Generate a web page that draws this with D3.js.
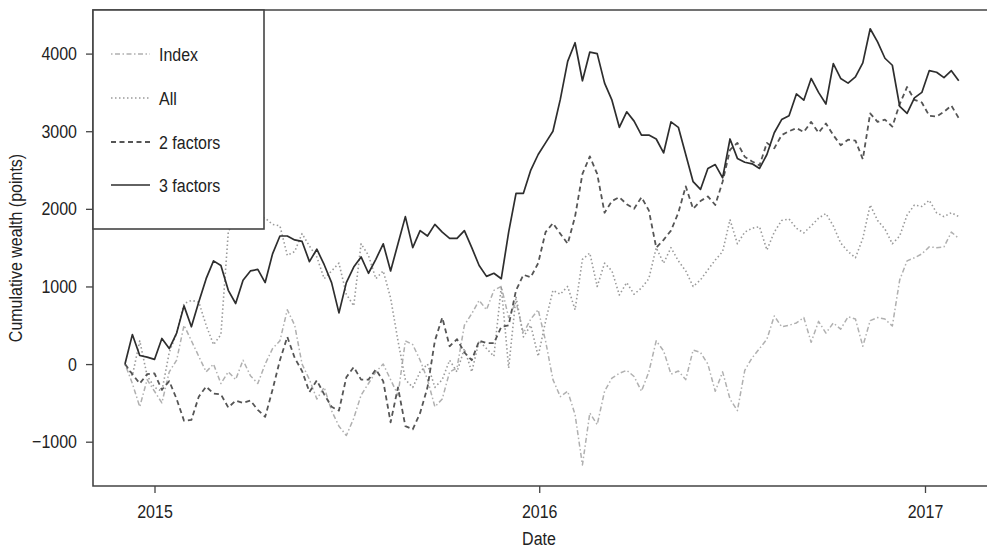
<!DOCTYPE html>
<html><head><meta charset="utf-8">
<script src="https://cdn.jsdelivr.net/npm/d3@7"></script>
<style>
body{margin:0;background:#fff;}
svg text{font-family:"Liberation Sans",Arial,sans-serif;fill:#222;}
</style></head>
<body><svg id="c" width="987" height="550"></svg>
<script>
// ---- data (weekly observations) ----
const startDate = "2014-12-04";
const nPoints = 114;
const seriesNames = ["Index", "All", "2 factors", "3 factors"];
const yTicks = [-1000, 0, 1000, 2000, 3000, 4000];
const xTicks = ["2015-01-01", "2016-01-01", "2017-01-01"];
const xTickLabels = ["2015", "2016", "2017"];

const indexVals = [0,-250,-550,-200,-350,-500,-100,50,500,300,100,-100,0,-250,-100,-200,50,-150,-250,0,
 200,300,700,500,0,-200,-450,-300,-600,-800,-920,-700,-400,-250,-100,0,-200,-400,300,250,
 50,-200,-550,-450,-100,-50,500,650,820,700,950,1000,600,800,400,580,700,300,-200,-420,
 -350,-650,-1300,-630,-780,-350,-180,-120,-80,-160,-350,-100,300,170,-130,-90,-200,180,150,0,
 -350,-100,-450,-600,-80,80,200,320,620,480,500,530,600,280,550,400,530,450,610,580,
 230,560,600,580,490,1085,1330,1370,1420,1510,1500,1510,1700,1620];
const allVals = [0,-150,300,-150,-300,-350,150,400,780,820,800,500,250,380,1700,1900,2000,1950,1900,1880,
 1800,1780,1400,1450,1680,1520,1380,1100,1200,1300,900,750,1550,1400,1100,1200,850,300,-200,-300,
 -100,0,-300,-200,50,-100,200,-100,300,200,100,1000,-50,870,350,500,100,550,950,900,
 1000,700,1350,1430,1000,1300,1200,890,1050,900,980,1100,1500,1300,1500,1330,1200,1000,1085,1215,
 1340,1450,1860,1550,1700,1750,1770,1470,1700,1850,1870,1750,1690,1780,1880,1940,1780,1560,1450,1370,
 1620,2050,1850,1740,1550,1650,1920,2050,2030,2110,1950,1900,1950,1900];
const twoFactorVals = [0,-130,-250,-130,-120,-330,-220,-450,-730,-720,-420,-290,-380,-390,-560,-470,-500,-470,-590,-680,
 -330,50,350,80,-90,-360,-210,-390,-550,-600,-170,-40,-200,-200,-70,-220,-750,-300,-800,-840,
 -630,-300,300,600,230,320,150,50,300,270,270,480,500,950,1150,1120,1300,1700,1815,1680,
 1550,1900,2450,2675,2450,1950,2100,2150,2060,2000,2150,1980,1500,1600,1720,1950,2290,2000,2100,2160,
 2050,2350,2760,2850,2670,2610,2560,2850,2780,2950,3000,3040,2990,3120,2980,3100,2950,2820,2890,2880,
 2640,3230,3120,3150,3060,3350,3570,3405,3370,3200,3190,3250,3330,3170];
const threeFactorVals = [0,380,110,90,60,330,200,400,750,480,800,1100,1330,1270,950,780,1080,1200,1220,1050,
 1420,1650,1650,1600,1580,1320,1480,1280,1050,660,1050,1250,1380,1170,1350,1550,1200,1550,1900,1500,
 1720,1650,1800,1700,1620,1620,1720,1500,1270,1130,1170,1100,1700,2200,2200,2500,2700,2850,3000,3410,
 3900,4140,3650,4020,4000,3620,3400,3050,3250,3130,2950,2950,2900,2720,3120,3050,2700,2350,2250,2520,
 2570,2400,2900,2650,2600,2580,2520,2700,2980,3150,3200,3480,3400,3680,3500,3350,3870,3680,3620,3700,
 3880,4320,4150,3940,3850,3320,3230,3430,3500,3780,3760,3690,3780,3650];

// ---- build ----
const parse = d3.timeParse("%Y-%m-%d");
const dates = d3.range(nPoints).map(i => d3.timeDay.offset(parse(startDate), 7 * i));
const seriesVals = [indexVals, allVals, twoFactorVals, threeFactorVals];
const styles = [
  {stroke:"#b0b0b0", width:1.5, dash:"1.5,2.5,5,2.5"},
  {stroke:"#9a9a9a", width:1.6, dash:"1.5,2.5"},
  {stroke:"#555555", width:1.8, dash:"5,3.5"},
  {stroke:"#2e2e2e", width:1.7, dash:null}
];
const FS = 18.6, SQ = 0.86; // font size, horizontal condensing

function condense(sel) {
  sel.each(function() {
    const t = d3.select(this);
    const X = +(t.attr("x") || 0);
    t.attr("transform", `translate(${X * (1 - SQ)},0) scale(${SQ},1)`);
  });
}

const svg = d3.select("#c");
const W = 987;
const plot = {left:93, top:10, bottom:486, right:W};

const x = d3.scaleTime().domain([parse(xTicks[0]), parse(xTicks[2])]).range([154.5, 925]);
const y = d3.scaleLinear().domain([-1000, 4000]).range([441.7, 53.6]);
const line = d3.line().x(d => x(d[0])).y(d => y(d[1]));

const g = svg.append("g");
seriesVals.forEach((vals, k) => {
  const pts = vals.map((v, i) => [dates[i], v]);
  const st = styles[k];
  g.append("path").datum(pts).attr("d", line)
    .attr("fill", "none").attr("stroke", st.stroke).attr("stroke-width", st.width)
    .attr("stroke-dasharray", st.dash).attr("stroke-linejoin", "round");
});

// axes
const axisColor = "#444";
const yAxis = svg.append("g").attr("transform", `translate(${plot.left},0)`)
  .call(d3.axisLeft(y).tickValues(yTicks).tickSize(7).tickPadding(9)
    .tickFormat(d => d < 0 ? "\u2212" + Math.abs(d) : String(d)));
yAxis.select(".domain").remove();
yAxis.selectAll("line").attr("stroke", axisColor).attr("stroke-width", 1.3);
yAxis.selectAll("text").attr("font-size", FS).style("font-family", '"Liberation Sans",Arial,sans-serif').call(condense);

const xAxis = svg.append("g").attr("transform", `translate(0,${plot.bottom})`)
  .call(d3.axisBottom(x).tickValues(xTicks.map(parse)).tickSize(7).tickPadding(12)
    .tickFormat((d, i) => xTickLabels[i]));
xAxis.select(".domain").remove();
xAxis.selectAll("line").attr("stroke", axisColor).attr("stroke-width", 1.3);
xAxis.selectAll("text").attr("font-size", FS).style("font-family", '"Liberation Sans",Arial,sans-serif').call(condense);

// box (left, top, bottom)
svg.append("path")
  .attr("d", `M${plot.right},${plot.top}H${plot.left}V${plot.bottom}H${plot.right}`)
  .attr("fill", "none").attr("stroke", axisColor).attr("stroke-width", 1.6);

// titles
svg.append("text").attr("x", 539).attr("y", 545).attr("text-anchor", "middle")
  .attr("font-size", FS).text("Date").call(condense);
svg.append("text").attr("transform", `translate(22,248) rotate(-90) scale(${SQ},1)`).attr("text-anchor", "middle")
  .attr("font-size", FS).text("Cumulative wealth (points)");

// legend
const lg = svg.append("g");
lg.append("rect").attr("x", plot.left).attr("y", plot.top).attr("width", 171).attr("height", 219)
  .attr("fill", "#fff").attr("stroke", axisColor).attr("stroke-width", 1.6);
const legendY = [54, 98, 142, 185];
seriesNames.forEach((name, k) => {
  const st = styles[k];
  lg.append("line").attr("x1", 111).attr("x2", 150).attr("y1", legendY[k]).attr("y2", legendY[k])
    .attr("stroke", st.stroke).attr("stroke-width", st.width).attr("stroke-dasharray", st.dash);
  lg.append("text").attr("x", 159).attr("y", legendY[k] + 7).attr("font-size", FS).text(name).call(condense);
});
</script></body></html>
